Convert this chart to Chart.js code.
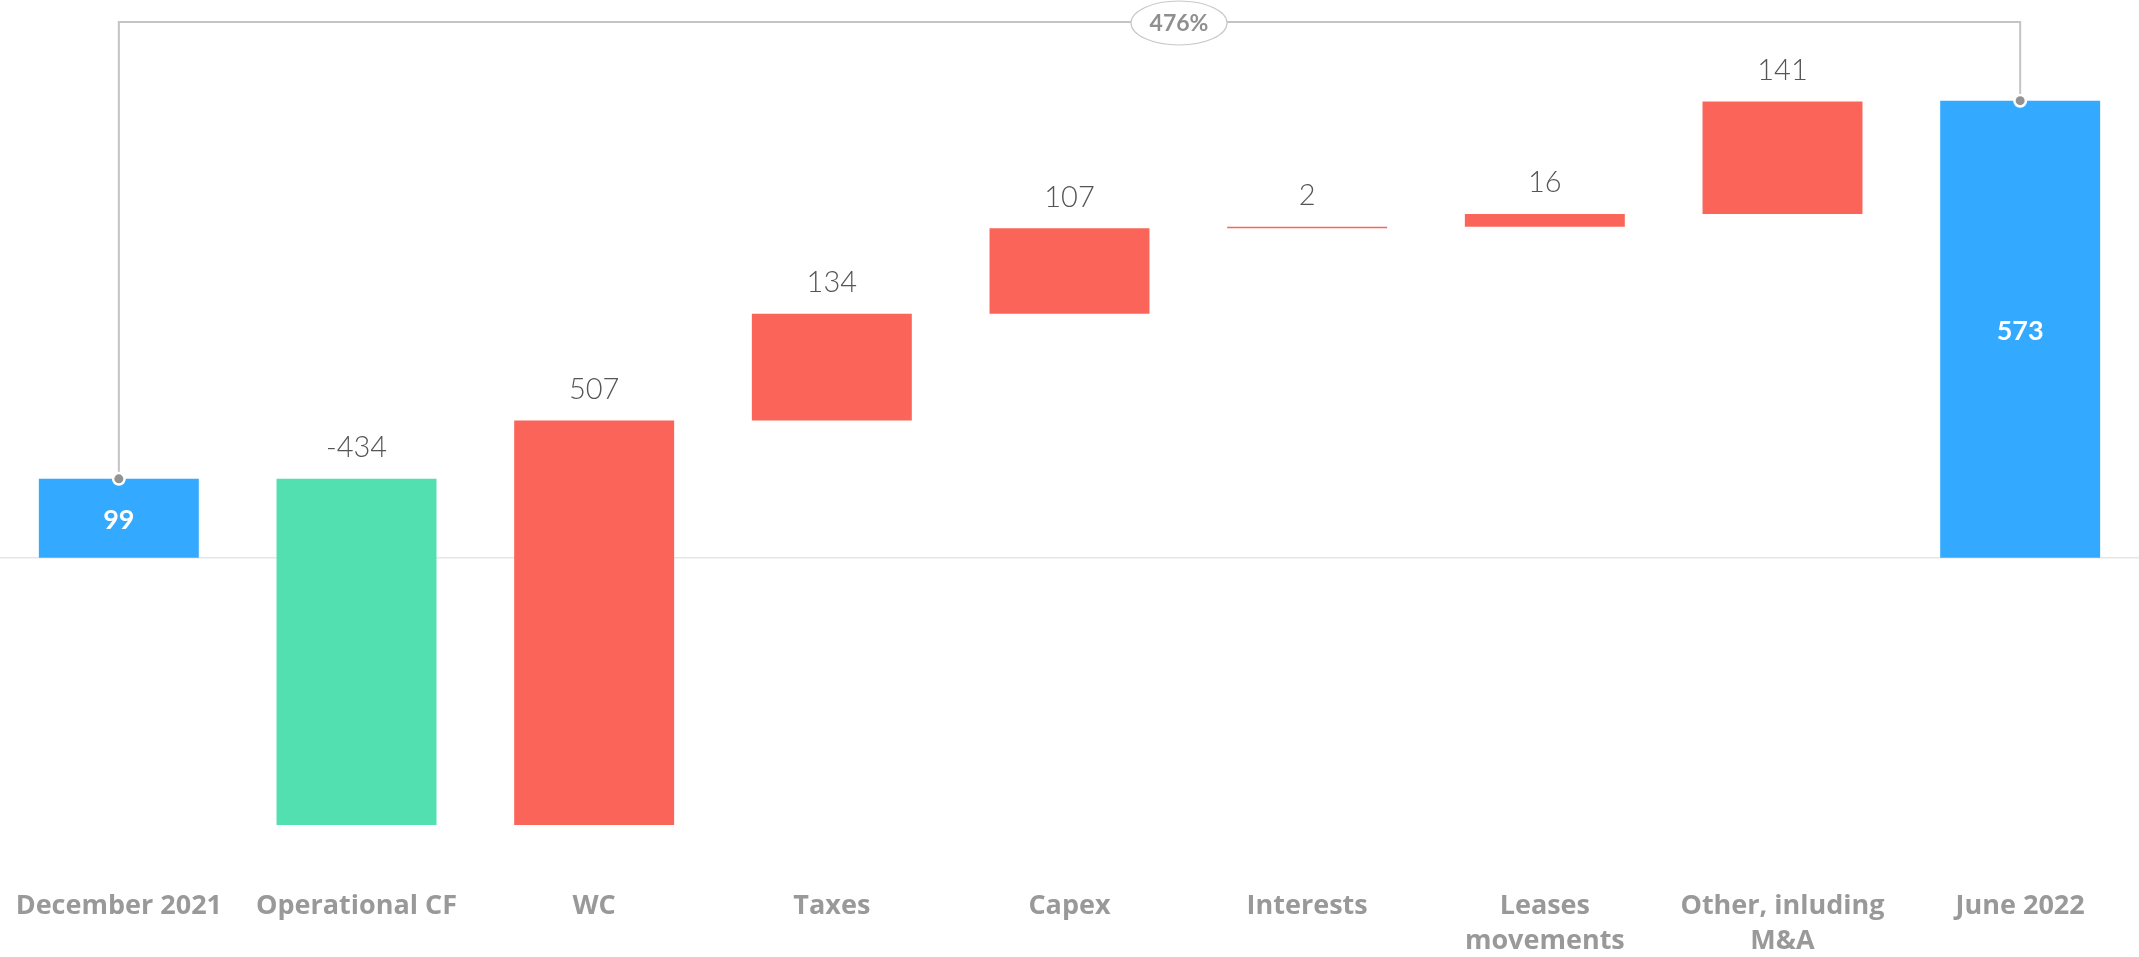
<!DOCTYPE html>
<html>
<head>
<meta charset="utf-8">
<script src="https://cdn.jsdelivr.net/npm/chart.js@4/dist/chart.umd.min.js"></script>
<style>
html,body{margin:0;padding:0;background:#fff;}
#wrap{width:2139px;height:957px;position:relative;}
</style>
</head>
<body>
<div id="wrap"><canvas id="c"></canvas></div>
<script>
// ---- data ----
const categories = ["December 2021", "Operational CF", "WC", "Taxes", "Capex", "Interests", ["Leases", "movements"], ["Other, inluding", "M&A"], "June 2022"];
const values = [99, -434, 507, 134, 107, 2, 16, 141, 573];
const kinds = ["total", "delta", "delta", "delta", "delta", "delta", "delta", "delta", "total"];
const valueLabels = ["99", "-434", "507", "134", "107", "2", "16", "141", "573"];
const bracketLabel = "476%";

// ---- build floating ranges ----
const ranges = [];
let run = 0;
values.forEach((v, i) => {
  if (kinds[i] === "total") { ranges.push([0, v]); run = v; }
  else { ranges.push([run, run + v]); run += v; }
});
const BLUE = "#33aaff", RED = "#fb6459", GREEN = "#52e0b0";
const colors = values.map((v, i) => kinds[i] === "total" ? BLUE : (v < 0 ? GREEN : RED));

const FONT = "Lato, 'Open Sans', sans-serif";
const CAT_FONT = "'Open Sans', Lato, sans-serif";

const overlay = {
  id: "overlay",
  beforeDatasetsDraw(chart) {
    const {ctx, scales} = chart;
    const y0 = scales.y.getPixelForValue(0);
    ctx.save();
    ctx.strokeStyle = "#e6e6e6";
    ctx.lineWidth = 1.5;
    ctx.beginPath();
    ctx.moveTo(0, y0); ctx.lineTo(chart.width, y0);
    ctx.stroke();
    ctx.restore();
  },
  afterDatasetsDraw(chart) {
    const {ctx, chartArea} = chart;
    const meta = chart.getDatasetMeta(0);
    ctx.save();
    // value labels
    meta.data.forEach((bar, i) => {
      if (kinds[i] === "total") {
        ctx.font = "bold 27px " + FONT;
        ctx.fillStyle = "#ffffff";
        ctx.textAlign = "center";
        ctx.textBaseline = "middle";
        ctx.fillText(valueLabels[i], bar.x, (bar.y + bar.base) / 2 + 2);
      } else {
        const top = Math.min(bar.y, bar.base);
        ctx.font = "300 29px " + FONT;
        ctx.fillStyle = "#555555";
        ctx.textAlign = "center";
        ctx.textBaseline = "middle";
        ctx.fillText(valueLabels[i], bar.x, top - 31);
      }
    });
    // bracket
    const first = meta.data[0], last = meta.data[meta.data.length - 1];
    const by = chartArea.top - 38;
    ctx.strokeStyle = "#c4c4c4";
    ctx.lineWidth = 2;
    ctx.beginPath();
    ctx.moveTo(first.x, first.y);
    ctx.lineTo(first.x, by);
    ctx.lineTo(last.x, by);
    ctx.lineTo(last.x, last.y);
    ctx.stroke();
    [first, last].forEach(b => {
      ctx.beginPath();
      ctx.arc(b.x, b.y, 7, 0, Math.PI * 2);
      ctx.fillStyle = "#ffffff";
      ctx.fill();
      ctx.beginPath();
      ctx.arc(b.x, b.y, 4.5, 0, Math.PI * 2);
      ctx.fillStyle = "#939393";
      ctx.fill();
    });
    // ellipse label
    const ex = chartArea.left + chartArea.width * 0.5512;
    const ey = by + 1;
    ctx.beginPath();
    ctx.ellipse(ex, ey, 48, 22, 0, 0, Math.PI * 2);
    ctx.fillStyle = "#ffffff";
    ctx.fill();
    ctx.strokeStyle = "#c8c8c8";
    ctx.lineWidth = 1.2;
    ctx.stroke();
    ctx.font = "bold 23px " + FONT;
    ctx.fillStyle = "#8f8f8f";
    ctx.textAlign = "center";
    ctx.textBaseline = "middle";
    ctx.fillText(bracketLabel, ex, ey + 1);
    ctx.restore();
  }
};

new Chart(document.getElementById("c"), {
  type: "bar",
  data: {
    labels: categories,
    datasets: [{
      data: ranges,
      backgroundColor: colors,
      borderWidth: 0,
      borderSkipped: false,
      categoryPercentage: 1,
      barPercentage: 0.673
    }]
  },
  options: {
    responsive: true,
    maintainAspectRatio: false,
    animation: false,
    layout: { padding: { top: 60, left: 0, right: 0, bottom: 0 } },
    plugins: { legend: { display: false }, tooltip: { enabled: false } },
    scales: {
      x: {
        offset: true,
        grid: { display: false, drawTicks: false },
        border: { display: false },
        ticks: {
          color: "#999999",
          padding: 28,
          maxRotation: 0,
          autoSkip: false,
          font: { family: CAT_FONT, size: 27, weight: "bold", lineHeight: 1.3 }
        },
        afterFit(s) { s.height = 96; s.paddingLeft = 0; s.paddingRight = 0; }
      },
      y: {
        display: false,
        min: -380,
        max: 624
      }
    }
  },
  plugins: [overlay]
});
</script>
</body>
</html>
